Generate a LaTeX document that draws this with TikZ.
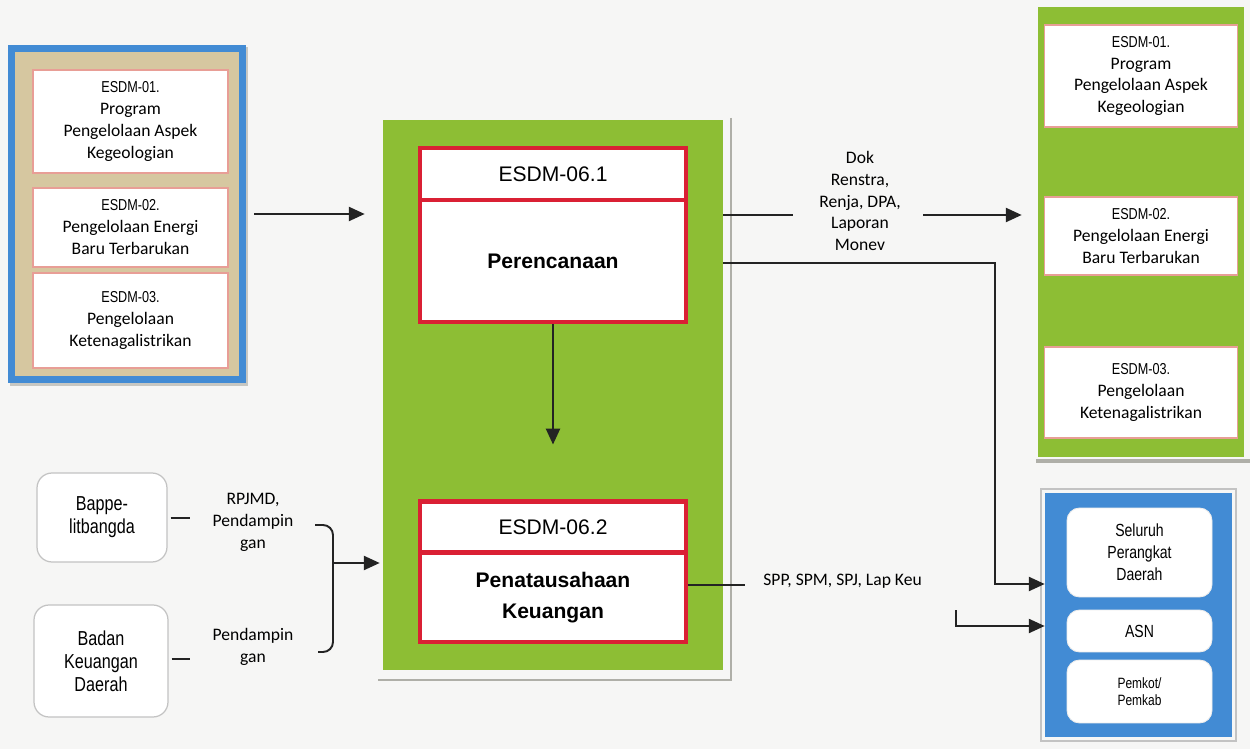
\documentclass[tikz,border=0pt]{standalone}
\usepackage{fontspec}
\setmainfont{Carlito}
\newfontfamily\arialfont{Liberation Sans}
\newfontfamily\narrowfont[FakeStretch=0.8]{Liberation Sans}
\usepackage{xcolor}
\usetikzlibrary{arrows.meta, calc}

\definecolor{paper}{RGB}{246,246,245}
\definecolor{esdmblue}{RGB}{66,139,212}
\definecolor{esdmtan}{RGB}{214,199,160}
\definecolor{esdmgreen}{RGB}{141,190,52}
\definecolor{esdmred}{RGB}{218,32,52}
\definecolor{boxpink}{RGB}{232,158,150}
\definecolor{softgray}{RGB}{195,195,195}
\definecolor{shadowgray}{RGB}{175,175,168}
\definecolor{linkgray}{RGB}{35,35,35}

\tikzset{
  progbox/.style={draw=boxpink, line width=0.6pt, fill=white, align=center,
    inner sep=0pt, font=\fontsize{10}{12.5}\selectfont},
  unitbox/.style={draw=esdmred, line width=2.3pt, fill=white, align=center,
    inner sep=0pt, minimum width=5.32cm},
  partybox/.style={draw=softgray, line width=0.7pt, fill=white, rounded corners=0.3cm,
    align=center, inner sep=0pt, font=\narrowfont\fontsize{11.5}{13}\selectfont},
  stakebox/.style={draw=white!85!gray, line width=0.5pt, fill=white, rounded corners=0.25cm,
    align=center, inner sep=0pt, minimum width=2.9cm, font=\narrowfont\fontsize{10}{12.5}\selectfont},
  flow/.style={draw=linkgray, line width=1.1pt},
  flowarr/.style={flow, -{Triangle[length=9pt, width=8pt]}},
  note/.style={align=center, inner sep=0pt, font=\fontsize{10}{12.5}\selectfont},
}

\newcommand{\esdmno}[1]{{\narrowfont\fontsize{9}{12.5}\selectfont #1}}

\begin{document}
\begin{tikzpicture}[x=0.02cm, y=-0.02cm]
  \useasboundingbox (0,0) rectangle (1250,749);
  \fill[paper] (0,0) rectangle (1250,749);

  % ----- Left: program list -----
  \fill[shadowgray!70] (10,47) rectangle (248,386);
  \node[draw=esdmblue, line width=4pt, fill=esdmtan, inner sep=0pt,
        minimum width=4.62cm, minimum height=6.62cm] (progL) at (127,214) {};
  \node[progbox, minimum width=3.9cm, minimum height=2.06cm] (progL1) at (130.5,121.5)
    {\esdmno{ESDM-01.}\\Program\\Pengelolaan Aspek\\Kegeologian};
  \node[progbox, minimum width=3.9cm, minimum height=1.58cm] (progL2) at (130.5,227.5)
    {\esdmno{ESDM-02.}\\Pengelolaan Energi\\Baru Terbarukan};
  \node[progbox, minimum width=3.9cm, minimum height=1.9cm] (progL3) at (130.5,320.5)
    {\esdmno{ESDM-03.}\\Pengelolaan\\Ketenagalistrikan};

  % ----- Centre: the unit with its two sub-units -----
  \draw[shadowgray, line width=1.5pt] (731,118) -- (731,680) -- (378,680);
  \node[fill=esdmgreen, inner sep=0pt, minimum width=6.8cm, minimum height=11cm] (unit) at (553,395) {};
  \node[unitbox, minimum height=1.04cm, font=\arialfont\fontsize{12}{14}\selectfont] (renHead) at (553,174) {ESDM-06.1};
  \node[unitbox, minimum height=2.44cm, font=\arialfont\bfseries\fontsize{12}{14}\selectfont] (ren) at (553,261) {Perencanaan};
  \node[unitbox, minimum height=1.02cm, font=\arialfont\fontsize{12}{14}\selectfont] (keuHead) at (553,527) {ESDM-06.2};
  \node[unitbox, minimum height=1.78cm, font=\arialfont\bfseries\fontsize{12}{18}\selectfont] (keu) at (553,597.5) {Penatausahaan\\Keuangan};

  \draw[flowarr, shorten <=0.17cm, shorten >=0.36cm] (progL.east) -- (unit.west |- progL.east);
  \draw[flowarr, shorten >=1.1cm] (ren.south) -- (keuHead.north);

  % ----- Right: the programs served -----
  \draw[shadowgray, line width=2pt] (1036,461) -- (1250,461);
  \node[fill=esdmgreen, inner sep=0pt, minimum width=4.12cm, minimum height=9cm] (tujuan) at (1141,232) {};
  \node[progbox, minimum width=3.86cm, minimum height=2.04cm] (tuj1) at (1141,76)
    {\esdmno{ESDM-01.}\\Program\\Pengelolaan Aspek\\Kegeologian};
  \node[progbox, minimum width=3.86cm, minimum height=1.56cm] (tuj2) at (1141,236)
    {\esdmno{ESDM-02.}\\Pengelolaan Energi\\Baru Terbarukan};
  \node[progbox, minimum width=3.86cm, minimum height=1.82cm] (tuj3) at (1141,392.5)
    {\esdmno{ESDM-03.}\\Pengelolaan\\Ketenagalistrikan};

  \node[note] (dok) at (860,201) {Dok\\Renstra,\\Renja, DPA,\\Laporan\\Monev};
  \coordinate (dokL) at (793,215);
  \coordinate (dokR) at (923,215);
  \draw[flow] (unit.east |- dokL) -- (dokL);
  \draw[flowarr, shorten >=0.32cm] (dokR) -- (tujuan.west |- dokR);

  % ----- Bottom right: stakeholders -----
  \draw[softgray, line width=1pt] (1041,489) rectangle (1236,741);
  \node[fill=esdmblue, inner sep=0pt, minimum width=3.74cm, minimum height=4.88cm] (stake) at (1138.5,615) {};
  \node[stakebox, minimum height=1.78cm] (stake1) at (1139.5,552.5) {Seluruh\\Perangkat\\Daerah};
  \node[stakebox, minimum height=0.84cm] (stake2) at (1139.5,631) {ASN};
  \node[stakebox, minimum height=1.26cm, font=\narrowfont\fontsize{8.5}{10}\selectfont] (stake3) at (1139.5,691.5) {Pemkot/\\Pemkab};

  \coordinate (monevTurn) at (995,263);
  \coordinate (monevDown) at (995,584);
  \draw[flowarr] (unit.east |- monevTurn) -- (monevTurn) -- (monevDown) -- (stake.west |- monevDown);

  \node[note, anchor=west] (spp) at (763,581) {SPP, SPM, SPJ, Lap Keu};
  \coordinate (sppEnd) at (745,585);
  \draw[flow] (keu.east |- sppEnd) -- (sppEnd);
  \coordinate (sppTurn) at (956,610);
  \coordinate (sppDown) at (956,626);
  \draw[flowarr] (sppTurn) -- (sppDown) -- (stake.west |- sppDown);

  % ----- Bottom left: supporting agencies -----
  \node[partybox, minimum width=2.6cm, minimum height=1.78cm] (bappe) at (102,517.5) {Bappe-\\litbangda};
  \node[partybox, minimum width=2.68cm, minimum height=2.24cm] (bkd) at (101,661) {Badan\\Keuangan\\Daerah};
  \node[note] (rpjmd) at (253,522) {RPJMD,\\Pendampin\\gan};
  \node[note] (pend) at (253,647) {Pendampin\\gan};
  \coordinate (rpjmdL) at (190,518);
  \coordinate (pendL) at (190,659);
  \draw[flow, shorten <=0.06cm] (bappe.east |- rpjmdL) -- (rpjmdL);
  \draw[flow, shorten <=0.06cm] (bkd.east |- pendL) -- (pendL);

  \coordinate (braceTop) at (315,525);
  \coordinate (braceBot) at (318,652);
  \coordinate (braceMid) at (333,563);
  \draw[flow, rounded corners=0.2cm] (braceTop) -- (braceMid |- braceTop) -- (braceMid |- braceBot) -- (braceBot);
  \draw[flowarr, shorten >=0.06cm] (braceMid) -- (unit.west |- braceMid);
\end{tikzpicture}
\end{document}
